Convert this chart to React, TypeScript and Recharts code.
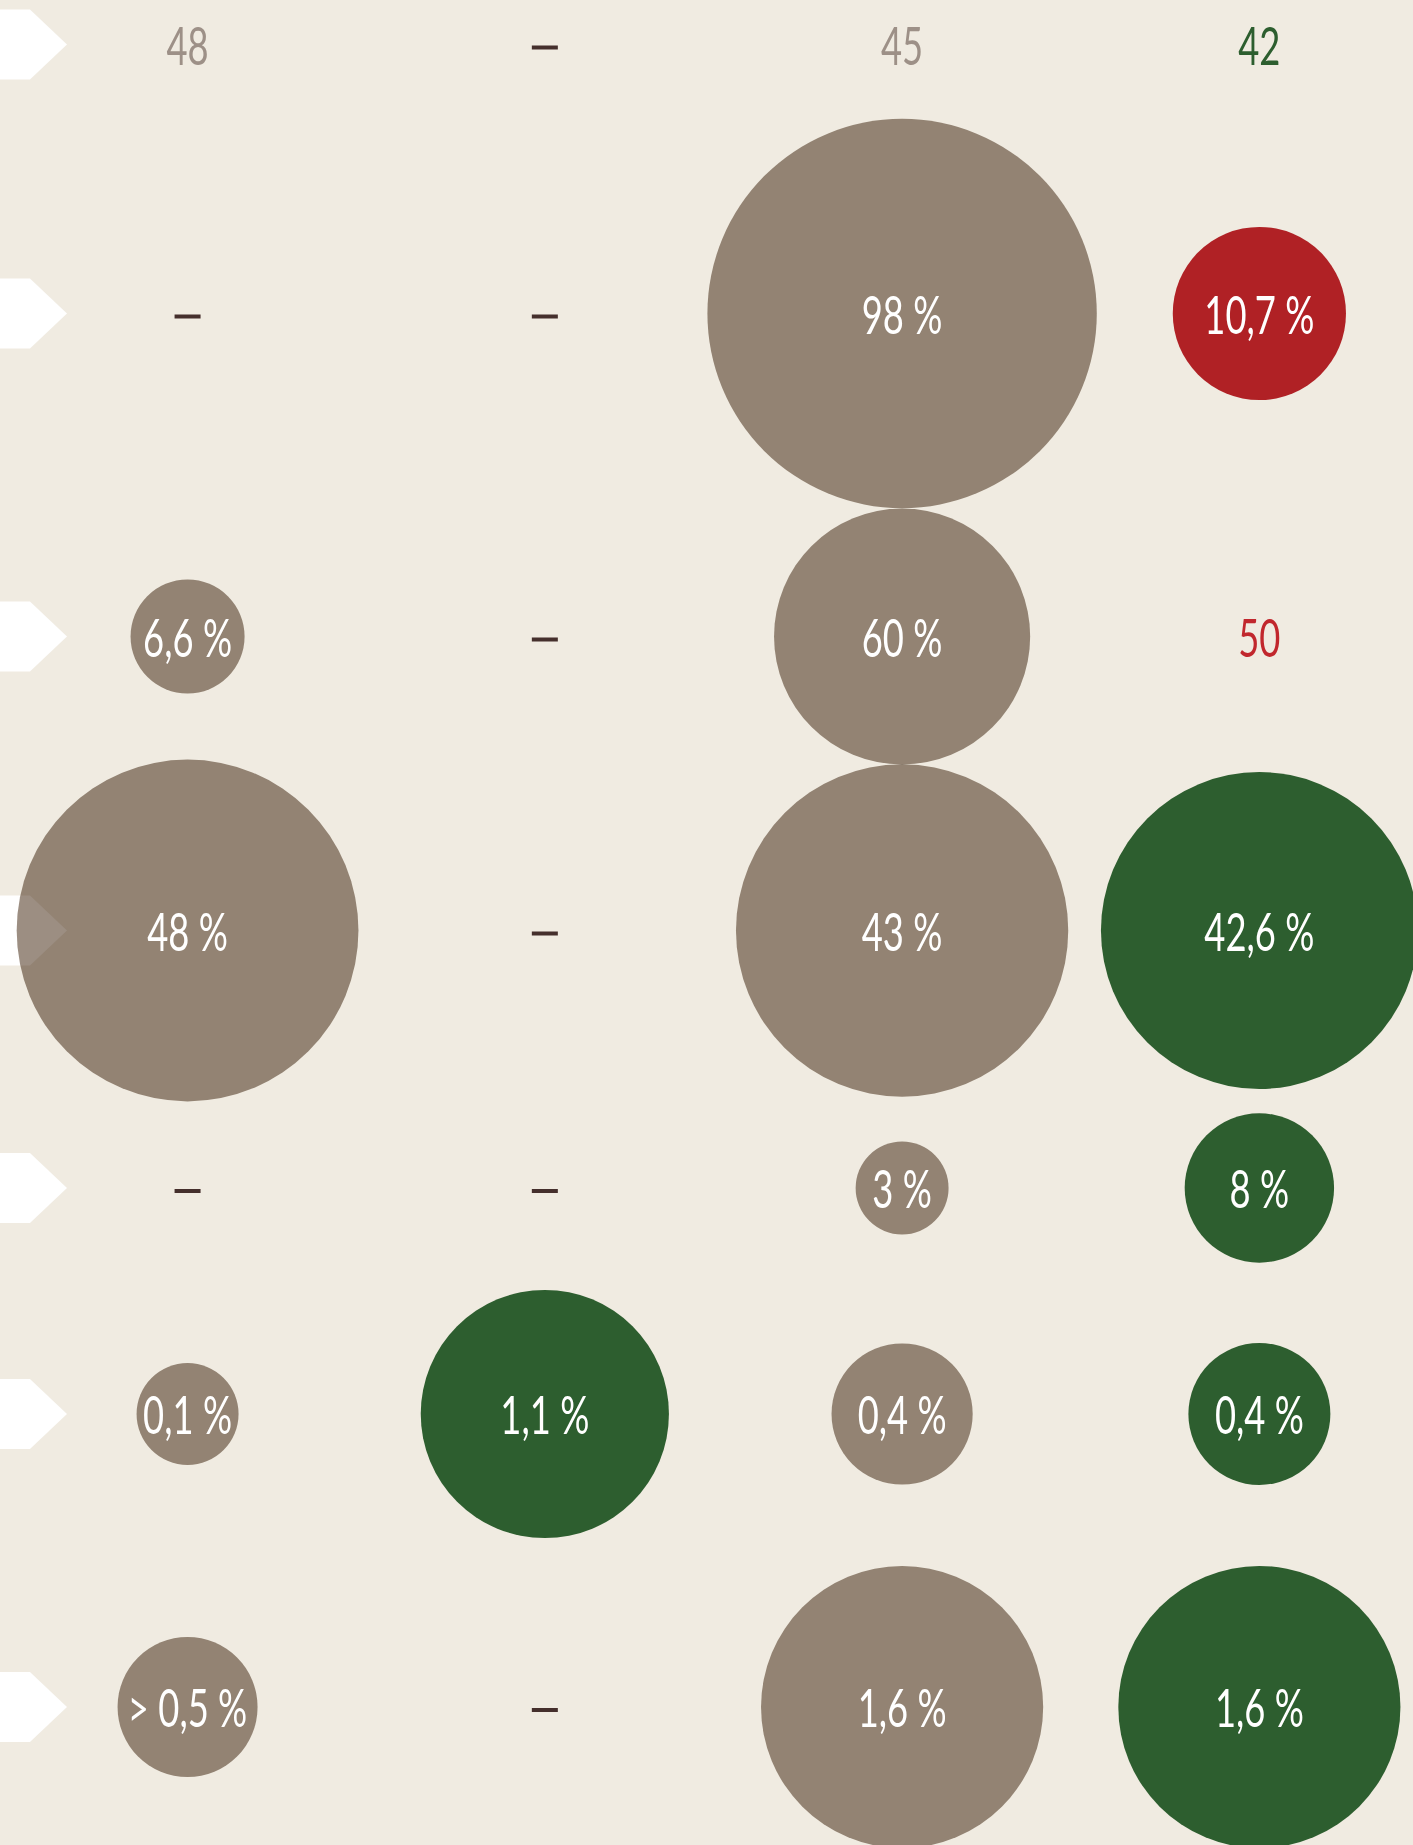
// Bubble matrix: seven rows x four columns, bubble area encodes the share, colour the verdict.
import { ScatterChart, Scatter, XAxis, YAxis, ZAxis } from 'recharts';

const columnKeys = [0, 1, 2, 3];

const cellLabels = [
  ['48', '–', '45', '42'],
  ['–', '–', '98 %', '10,7 %'],
  ['6,6 %', '–', '60 %', '50'],
  ['48 %', '–', '43 %', '42,6 %'],
  ['–', '–', '3 %', '8 %'],
  ['0,1 %', '1,1 %', '0,4 %', '0,4 %'],
  ['> 0,5 %', '–', '1,6 %', '1,6 %'],
];

// relative bubble area, 0 = plain text or dash
const bubbleArea = [
  [0, 0, 0, 0],
  [0, 0, 379, 75],
  [32.5, 0, 164, 0],
  [292, 0, 276, 251],
  [0, 0, 21.6, 55.8],
  [26, 154, 49.8, 50.4],
  [49, 0, 199, 199],
];

const cellTone = [
  ['neutral', 'none', 'neutral', 'positive'],
  ['none', 'none', 'neutral', 'negative'],
  ['neutral', 'none', 'neutral', 'negative'],
  ['neutral', 'none', 'neutral', 'positive'],
  ['none', 'none', 'neutral', 'positive'],
  ['neutral', 'positive', 'neutral', 'positive'],
  ['neutral', 'none', 'neutral', 'positive'],
];

// layout: x domain (left edge carries the row markers) and row band centres (units of 100px)
const xDomain = [-0.525, 3.43];
const rowY = [0.445, 3.135, 6.365, 9.305, 11.88, 14.14, 17.07];

const points = cellLabels.flatMap((row, ri) =>
  row.map((label, ci) => ({
    col: columnKeys[ci],
    row: rowY[ri],
    label,
    area: bubbleArea[ri][ci],
    tone: cellTone[ri][ci],
  }))
);

const markers = rowY.map((row) => ({ col: xDomain[0], row, area: 0 }));

// circles use multiply so the white row markers show through faintly
const fillFor: Record<string, string> = { neutral: '#9C8E82', positive: '#306635', negative: '#BB232A' };
const textFor: Record<string, string> = { neutral: '#9D9087', positive: '#2D5E2F', negative: '#C1272D', none: '#452F2C' };

function RowMarker({ cx, cy }: any) {
  return <path d={`M${cx},${cy - 35} L${cx + 30},${cy - 35} L${cx + 67},${cy} L${cx + 30},${cy + 35} L${cx},${cy + 35} Z`} fill="#ffffff" />;
}

function Bubble(props: any) {
  const { cx, cy, payload, width, size } = props;
  const r = width ? width / 2 : Math.sqrt(Math.max(size || 0, 0) / Math.PI);
  if (payload.label === '–') {
    return <rect x={cx - 13} y={cy + 1} width={26} height={4} fill="#452F2C" />;
  }
  const hasBubble = payload.area > 0;
  return (
    <g>
      {hasBubble && <circle cx={cx} cy={cy} r={r} fill={fillFor[payload.tone]} style={{ mixBlendMode: 'multiply' }} />}
      <text
        transform={`translate(${cx},${cy + 20}) scale(0.7,1)`}
        textAnchor="middle"
        fontFamily="Lato, 'Noto Sans', sans-serif"
        fontSize={52}
        fill={hasBubble ? '#ffffff' : textFor[payload.tone]}
      >
        {payload.label}
      </text>
    </g>
  );
}

export default function App() {
  return (
    <div style={{ width: 1413, height: 1845, background: '#F0EBE1', overflow: 'hidden' }}>
      <style>{'body{margin:0}'}</style>
      <ScatterChart width={1413} height={1845} margin={{ top: 0, right: 0, bottom: 0, left: 0 }}>
        <XAxis type="number" dataKey="col" domain={xDomain} hide />
        <YAxis type="number" dataKey="row" domain={[0, 18.45]} reversed hide />
        <ZAxis type="number" dataKey="area" domain={[0, 400]} range={[0, 400 * 100 * Math.PI]} />
        <Scatter data={markers} shape={<RowMarker />} isAnimationActive={false} />
        <Scatter data={points} shape={<Bubble />} isAnimationActive={false} />
      </ScatterChart>
    </div>
  );
}
